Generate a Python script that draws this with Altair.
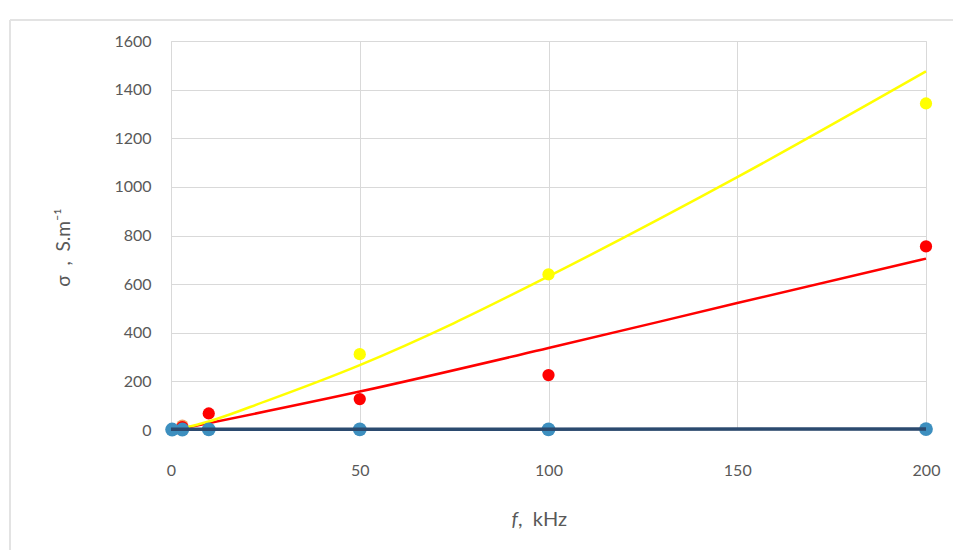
import altair as alt
import pandas as pd

# Scatter points (f in kHz, sigma in S/m)
blue_f = [0.3, 3, 10, 50, 100, 200]
blue_s = [2, 2, 3, 3, 3, 4]
orange_f = [3]
orange_s = [18]
red_f = [3, 10, 50, 100, 200]
red_s = [12, 68, 127, 226, 755]
yellow_f = [50, 100, 200]
yellow_s = [312, 640, 1343]

# Trend lines
red_trend_f = [2, 50, 100, 150, 200]
red_trend_s = [3, 158, 337, 522, 705]
yellow_trend_f = [2, 10, 25, 50, 75, 100, 150, 200]
yellow_trend_s = [3, 35, 118, 267, 440, 632, 1040, 1475]
blue_trend_f = [0, 200]
blue_trend_s = [3, 4]

x_ticks = [0, 50, 100, 150, 200]
y_ticks = [0, 200, 400, 600, 800, 1000, 1200, 1400, 1600]

pts = pd.DataFrame(
    [{"f": f, "s": s, "g": "blue"} for f, s in zip(blue_f, blue_s)]
    + [{"f": f, "s": s, "g": "orange"} for f, s in zip(orange_f, orange_s)]
    + [{"f": f, "s": s, "g": "red"} for f, s in zip(red_f, red_s)]
    + [{"f": f, "s": s, "g": "yellow"} for f, s in zip(yellow_f, yellow_s)]
)
trend = pd.DataFrame(
    [{"f": f, "s": s, "g": "blue"} for f, s in zip(blue_trend_f, blue_trend_s)]
    + [{"f": f, "s": s, "g": "red"} for f, s in zip(red_trend_f, red_trend_s)]
    + [{"f": f, "s": s, "g": "yellow"} for f, s in zip(yellow_trend_f, yellow_trend_s)]
)

FONT = "Lato"
GRAY = "#595959"
NB = "\u00a0"

xs = alt.Scale(domain=[0, 200], nice=False)
ys = alt.Scale(domain=[0, 1600], nice=False)

x_enc = alt.X("f:Q", scale=xs, axis=alt.Axis(
    values=x_ticks, title=None, format="d", labelFlush=False,
    labelPadding=32, ticks=False, domain=False,
    gridColor="#d9d9d9", labelColor=GRAY,
    labelFontSize=16, labelFont=FONT))
y_enc = alt.Y("s:Q", scale=ys, axis=alt.Axis(
    values=y_ticks, title=f"σ{NB}{NB},{NB}{NB}S.m⁻¹", ticks=False, domain=False,
    format="d", labelFlush=False,
    labelPadding=20, gridColor="#d9d9d9", labelColor=GRAY, titleColor=GRAY,
    labelFontSize=16, titleFontSize=19, labelFont=FONT, titleFont=FONT,
    titleFontWeight="normal", titleX=-108, titleY=206,
    titleBaseline="middle", titleAlign="center", titleAngle=270))

col = alt.Scale(domain=["blue", "orange", "red", "yellow"],
                range=["#3d8fbf", "#f0a060", "#ff0000", "#ffff00"])
line_col = alt.Scale(domain=["blue", "red", "yellow"],
                     range=["#2b4a6f", "#ff1a1a", "#ffff1a"])

lines = alt.Chart(trend).mark_line(strokeWidth=2.5, interpolate="monotone").encode(
    x=x_enc, y=y_enc,
    color=alt.Color("g:N", scale=line_col, legend=None),
    detail="g:N")

blue_line = alt.Chart(trend[trend.g == "blue"]).mark_line(strokeWidth=3.5, color="#2b4a6f").encode(
    x=x_enc, y=y_enc)

points = alt.Chart(pts).mark_circle(size=150, opacity=1).encode(
    x=x_enc, y=y_enc,
    color=alt.Color("g:N", scale=col, legend=None),
    order=alt.Order("g:N"))

blue_pts = alt.Chart(pts[pts.g == "blue"]).mark_circle(size=190, opacity=1, color="#3d8fbf").encode(
    x=x_enc, y=y_enc)

frame_df = pd.DataFrame({"k": [0]})
frame_left = alt.Chart(frame_df).mark_rule(color="#e3e3e3", strokeWidth=2).encode(
    x=alt.value(-161), y=alt.value(-21), y2=alt.value(520))
frame_top = alt.Chart(frame_df).mark_rule(color="#e3e3e3", strokeWidth=2).encode(
    x=alt.value(-161), x2=alt.value(800), y=alt.value(-21))

# x-axis title: italic "f" followed by ", kHz"
xt_f = alt.Chart(frame_df).mark_text(
    text="f", font=FONT, fontSize=20, fontStyle="italic", color=GRAY,
    align="right", baseline="middle").encode(x=alt.value(347), y=alt.value(479))
xt_rest = alt.Chart(frame_df).mark_text(
    text=f"{NB}{NB},{NB}{NB}kHz", font=FONT, fontSize=20, color=GRAY,
    align="left", baseline="middle").encode(x=alt.value(347), y=alt.value(479))

chart = alt.layer(
    frame_left, frame_top,
    points.transform_filter("datum.g != 'blue'"),
    lines.transform_filter("datum.g != 'blue'"),
    blue_pts, blue_line, xt_f, xt_rest,
).properties(
    width=755, height=389,
    padding={"left": 163, "top": 33, "right": 27, "bottom": 120},
    autosize=alt.AutoSizeParams(type="none"),
).configure_view(stroke=None).configure(background="white")

chart.save("out.html", embed_options={"renderer": "svg", "actions": False})
